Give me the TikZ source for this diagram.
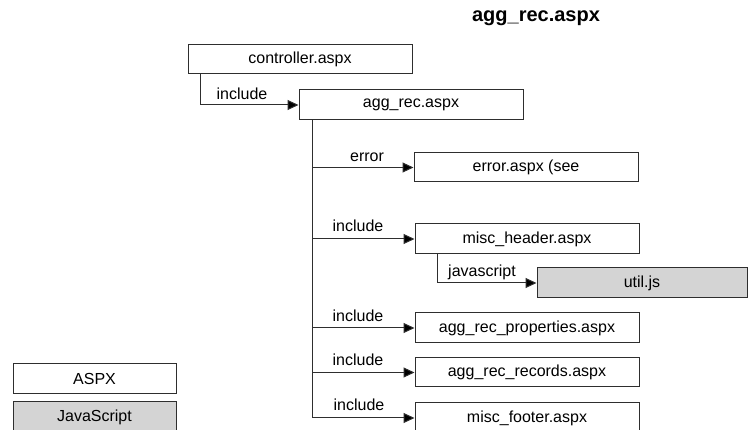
\documentclass[tikz,border=0pt]{standalone}
\usepackage{fontspec}
\setmainfont{Liberation Sans}
\usetikzlibrary{arrows.meta}
\definecolor{jsgrey}{HTML}{D4D4D4}
\definecolor{linegrey}{HTML}{2E2E2E}
\tikzset{
  aspx/.style={draw=linegrey, line width=1pt, fill=white, rectangle, inner sep=0pt,
    minimum width=224pt, minimum height=30pt, font=\fontsize{16}{19}\selectfont},
  jsbox/.style={aspx, fill=jsgrey},
  conn/.style={draw=linegrey, line width=1pt, -{Triangle[length=11pt,width=10pt,fill=black]}},
  lbl/.style={inner sep=0pt, text depth=0pt, anchor=base, font=\fontsize{16}{19}\selectfont},
  ttl/.style={inner sep=0pt, font=\bfseries\fontsize{20}{24}\selectfont}
}
\begin{document}
\begin{tikzpicture}[x=1pt,y=-1pt]
\useasboundingbox (0,0) rectangle (748,430);
\node[ttl] (title) at (536,18) {agg\_rec.aspx};
\node[aspx, minimum height=29pt] (ctrl) at (300,59.5) {controller.aspx};
\node[aspx] (agg) at (411,105) {agg\_rec.aspx};
\node[aspx, minimum height=29pt] (err) at (526,167.5) {error.aspx (see};
\node[aspx] (hdr) at (527,239) {misc\_header.aspx};
\node[jsbox, minimum width=210pt] (util) at (642,283) {util.js};
\node[aspx] (prop) at (527,328) {agg\_rec\_properties.aspx};
\node[aspx, minimum height=29pt] (rec) at (527,372.5) {agg\_rec\_records.aspx};
\node[aspx] (foot) at (527,418) {misc\_footer.aspx};
\node[aspx, minimum width=163pt] (legA) at (94.5,379) {ASPX};
\node[jsbox, minimum width=163pt] (legJ) at (94.5,417) {JavaScript};

\coordinate (c0) at ([xshift=13pt]ctrl.south west);
\coordinate (t0) at ([xshift=14pt]agg.south west);
\coordinate (h0) at ([xshift=23pt]hdr.south west);

\draw[conn] (c0) |- (agg.west);
\node[lbl] (l0) at (242,100) {include};

\draw[conn] (t0) |- (foot.west);
\draw[conn] (t0 |- err.west) -- (err.west);
\draw[conn] (t0 |- hdr.west) -- (hdr.west);
\draw[conn] (t0 |- prop.west) -- (prop.west);
\draw[conn] (t0 |- rec.west) -- (rec.west);
\draw[conn] (h0) |- (util.west);

\node[lbl] (l1) at (367,162) {error};
\node[lbl] (l2) at (358,232) {include};
\node[lbl] (l3) at (482,277) {javascript};
\node[lbl] (l4) at (358,322) {include};
\node[lbl] (l5) at (358,366) {include};
\node[lbl] (l6) at (359,411) {include};
\end{tikzpicture}
\end{document}
